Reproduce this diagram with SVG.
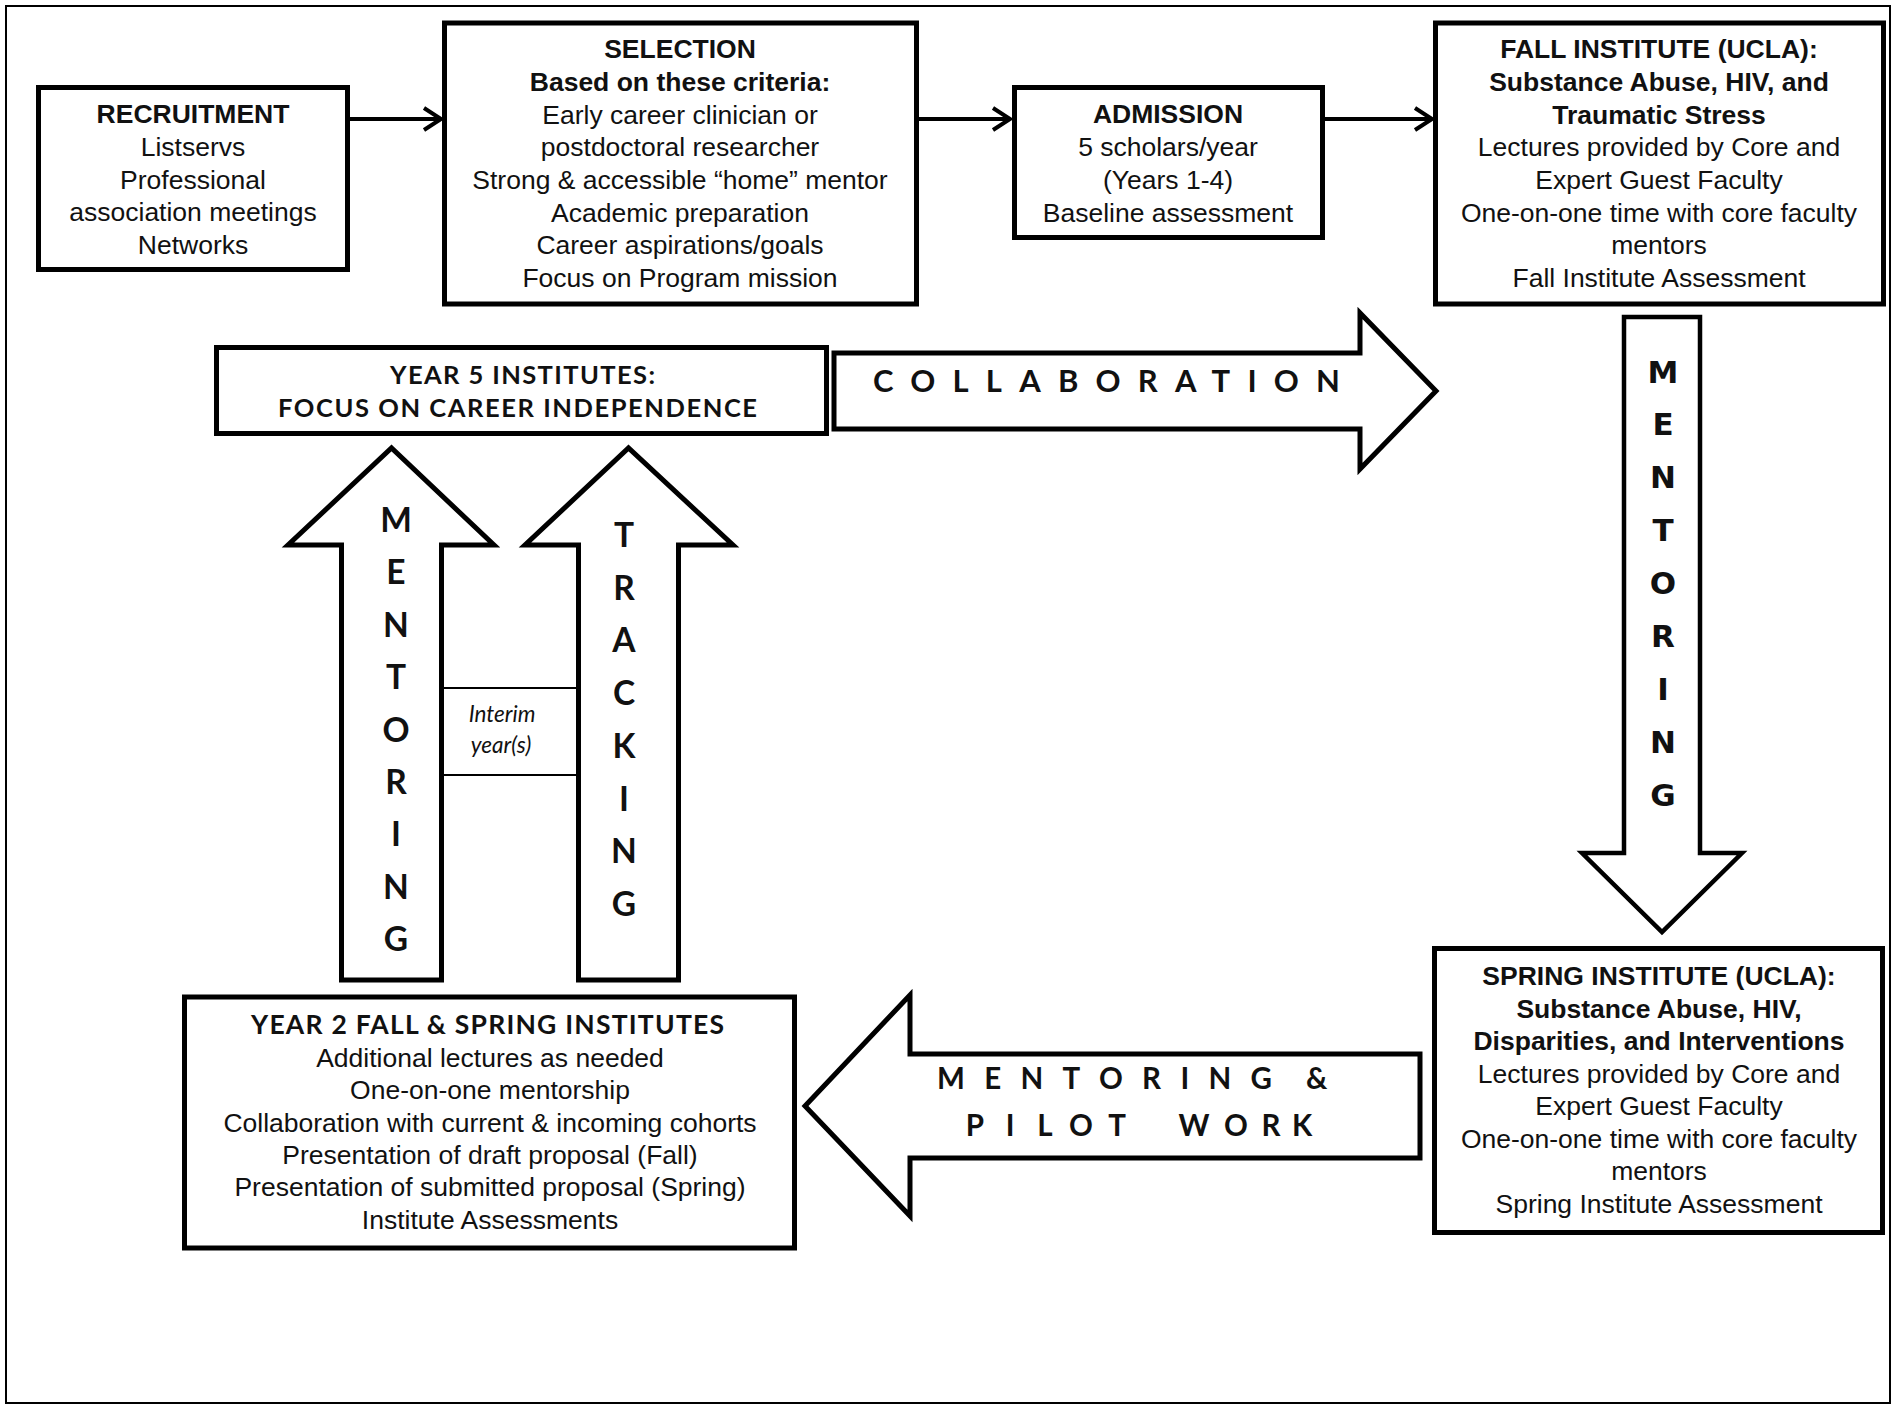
<svg xmlns="http://www.w3.org/2000/svg" width="1898" height="1411" viewBox="0 0 1898 1411">
<defs>
<style>
.bx{fill:#fff;stroke:#000;stroke-width:5}
.ar{fill:#fff;stroke:#000;stroke-width:5;stroke-linejoin:miter;stroke-miterlimit:10}
.ln{fill:none;stroke:#000;stroke-width:4}
.th{fill:none;stroke:#000;stroke-width:2}
.t{font-family:"Liberation Sans",Arial,sans-serif;font-size:26.5px;fill:#111;text-anchor:middle}
.b{font-weight:bold}
.c{font-family:Lato,"Open Sans",sans-serif;font-weight:bold;fill:#111}
.v{font-family:Lato,"Open Sans",sans-serif;font-weight:bold;font-size:33.5px;fill:#111;text-anchor:middle}
.d{font-family:"DejaVu Sans",Verdana,sans-serif;font-weight:bold;font-size:31px;fill:#111;text-anchor:middle}
.i{font-family:Lato,"Open Sans",sans-serif;font-style:italic;font-size:22.5px;fill:#111;text-anchor:middle}
</style>
</defs>
<rect x="0" y="0" width="1898" height="1411" fill="#fff"/>
<rect id="frame" x="6" y="6" width="1884" height="1397" class="th"/>

<g id="connectors">
<line x1="350" y1="119" x2="441" y2="119" class="ln"/>
<polyline points="424,108 441,119 424,130" class="ln"/>
<line x1="919" y1="119" x2="1010" y2="119" class="ln"/>
<polyline points="993,108 1010,119 993,130" class="ln"/>
<line x1="1325" y1="119" x2="1432" y2="119" class="ln"/>
<polyline points="1415,108 1432,119 1415,130" class="ln"/>
</g>

<g id="recruitment">
<rect x="38.5" y="87.5" width="309" height="182" class="bx"/>
<text class="t b" x="193" y="122.5">RECRUITMENT</text>
<text class="t" x="193" y="155.5">Listservs</text>
<text class="t" x="193" y="188.5">Professional</text>
<text class="t" x="193" y="220.5">association meetings</text>
<text class="t" x="193" y="253.5">Networks</text>
</g>

<g id="selection">
<rect x="444.5" y="23" width="472" height="281" class="bx"/>
<text class="t b" x="680" y="57.5">SELECTION</text>
<text class="t b" x="680" y="90.5">Based on these criteria:</text>
<text class="t" x="680" y="123.5">Early career clinician or</text>
<text class="t" x="680" y="156">postdoctoral researcher</text>
<text class="t" x="680" y="188.5">Strong &amp; accessible “home” mentor</text>
<text class="t" x="680" y="221.5">Academic preparation</text>
<text class="t" x="680" y="254">Career aspirations/goals</text>
<text class="t" x="680" y="286.5">Focus on Program mission</text>
</g>

<g id="admission">
<rect x="1014.5" y="87.5" width="308" height="150" class="bx"/>
<text class="t b" x="1168" y="122.5">ADMISSION</text>
<text class="t" x="1168" y="156">5 scholars/year</text>
<text class="t" x="1168" y="188.5">(Years 1-4)</text>
<text class="t" x="1168" y="221.5">Baseline assessment</text>
</g>

<g id="fall">
<rect x="1435.5" y="23" width="448" height="281" class="bx"/>
<text class="t b" x="1659" y="57.5">FALL INSTITUTE (UCLA):</text>
<text class="t b" x="1659" y="90.5">Substance Abuse, HIV, and</text>
<text class="t b" x="1659" y="123.5">Traumatic Stress</text>
<text class="t" x="1659" y="156">Lectures provided by Core and</text>
<text class="t" x="1659" y="188.5">Expert Guest Faculty</text>
<text class="t" x="1659" y="221.5">One-on-one time with core faculty</text>
<text class="t" x="1659" y="254">mentors</text>
<text class="t" x="1659" y="286.5">Fall Institute Assessment</text>
</g>

<g id="year5">
<rect x="216.5" y="347.5" width="610" height="86" class="bx"/>
<text class="c" x="390" y="384" font-size="25.5" textLength="265">YEAR 5 INSTITUTES:</text>
<text class="c" x="278" y="417" font-size="25.5" textLength="479">FOCUS ON CAREER INDEPENDENCE</text>
</g>

<g id="collaboration">
<path d="M834,353 L1360,353 L1360,313 L1436,391 L1360,469 L1360,429 L834,429 Z" class="ar"/>
<text class="c" x="873" y="391.5" font-size="31" textLength="467">COLLABORATION</text>
</g>

<g id="mentoring-right">
<path d="M1624,317 L1700,317 L1700,853 L1742,853 L1662,932 L1582,853 L1624,853 Z" class="ar" style="stroke-width:4.5"/>
<text class="d" x="1663" y="382.5">M</text>
<text class="d" x="1663" y="435.4">E</text>
<text class="d" x="1663" y="488.3">N</text>
<text class="d" x="1663" y="541.2">T</text>
<text class="d" x="1663" y="594.1">O</text>
<text class="d" x="1663" y="647">R</text>
<text class="d" x="1663" y="699.9">I</text>
<text class="d" x="1663" y="752.8">N</text>
<text class="d" x="1663" y="805.7">G</text>
</g>

<g id="mentoring-left">
<path d="M341.5,980 L341.5,545 L288,545 L391.5,448 L494,545 L441.5,545 L441.5,980 Z" class="ar"/>
<text class="v" x="396" y="532">M</text>
<text class="v" x="396" y="584.4">E</text>
<text class="v" x="396" y="636.8">N</text>
<text class="v" x="396" y="689.2">T</text>
<text class="v" x="396" y="741.6">O</text>
<text class="v" x="396" y="794">R</text>
<text class="v" x="396" y="846.4">I</text>
<text class="v" x="396" y="898.8">N</text>
<text class="v" x="396" y="951.2">G</text>
</g>

<g id="tracking">
<path d="M578.5,980 L578.5,545 L525,545 L628.5,448 L733,545 L678.5,545 L678.5,980 Z" class="ar"/>
<text class="v" x="624" y="547">T</text>
<text class="v" x="624" y="599.7">R</text>
<text class="v" x="624" y="652.4">A</text>
<text class="v" x="624" y="705.1">C</text>
<text class="v" x="624" y="757.8">K</text>
<text class="v" x="624" y="810.5">I</text>
<text class="v" x="624" y="863.2">N</text>
<text class="v" x="624" y="915.9">G</text>
</g>

<g id="interim">
<line x1="444" y1="688" x2="576" y2="688" class="th"/>
<line x1="444" y1="775" x2="576" y2="775" class="th"/>
<text class="i" x="502" y="721.5">Interim</text>
<text class="i" x="501" y="753">year(s)</text>
</g>

<g id="spring">
<rect x="1434.5" y="948.5" width="448" height="284" class="bx"/>
<text class="t b" x="1659" y="984.5">SPRING INSTITUTE (UCLA):</text>
<text class="t b" x="1659" y="1017.5">Substance Abuse, HIV,</text>
<text class="t b" x="1659" y="1049.5">Disparities, and Interventions</text>
<text class="t" x="1659" y="1082.5">Lectures provided by Core and</text>
<text class="t" x="1659" y="1114.5">Expert Guest Faculty</text>
<text class="t" x="1659" y="1147.5">One-on-one time with core faculty</text>
<text class="t" x="1659" y="1180">mentors</text>
<text class="t" x="1659" y="1212.5">Spring Institute Assessment</text>
</g>

<g id="mentoring-pilot">
<path d="M1420,1054 L910,1054 L910,995 L805,1106 L910,1216 L910,1158 L1420,1158 Z" class="ar"/>
<text class="c" font-size="29.5" y="1088.5"><tspan x="937" textLength="335">MENTORING</tspan><tspan x="1306">&amp;</tspan></text>
<text class="c" font-size="29.5" y="1135.5" text-anchor="middle"><tspan x="975 1010 1045 1081 1117">PILOT</tspan><tspan x="1194 1236 1271 1302">WORK</tspan></text>
</g>

<g id="year2">
<rect x="184.5" y="997" width="610" height="251" class="bx"/>
<text class="c" x="251" y="1033.5" font-size="26.5" textLength="473">YEAR 2 FALL &amp; SPRING INSTITUTES</text>
<text class="t" x="490" y="1066.5">Additional lectures as needed</text>
<text class="t" x="490" y="1099">One-on-one mentorship</text>
<text class="t" x="490" y="1131.5">Collaboration with current &amp; incoming cohorts</text>
<text class="t" x="490" y="1163.5">Presentation of draft proposal (Fall)</text>
<text class="t" x="490" y="1195.5">Presentation of submitted proposal (Spring)</text>
<text class="t" x="490" y="1228.5">Institute Assessments</text>
</g>
</svg>
